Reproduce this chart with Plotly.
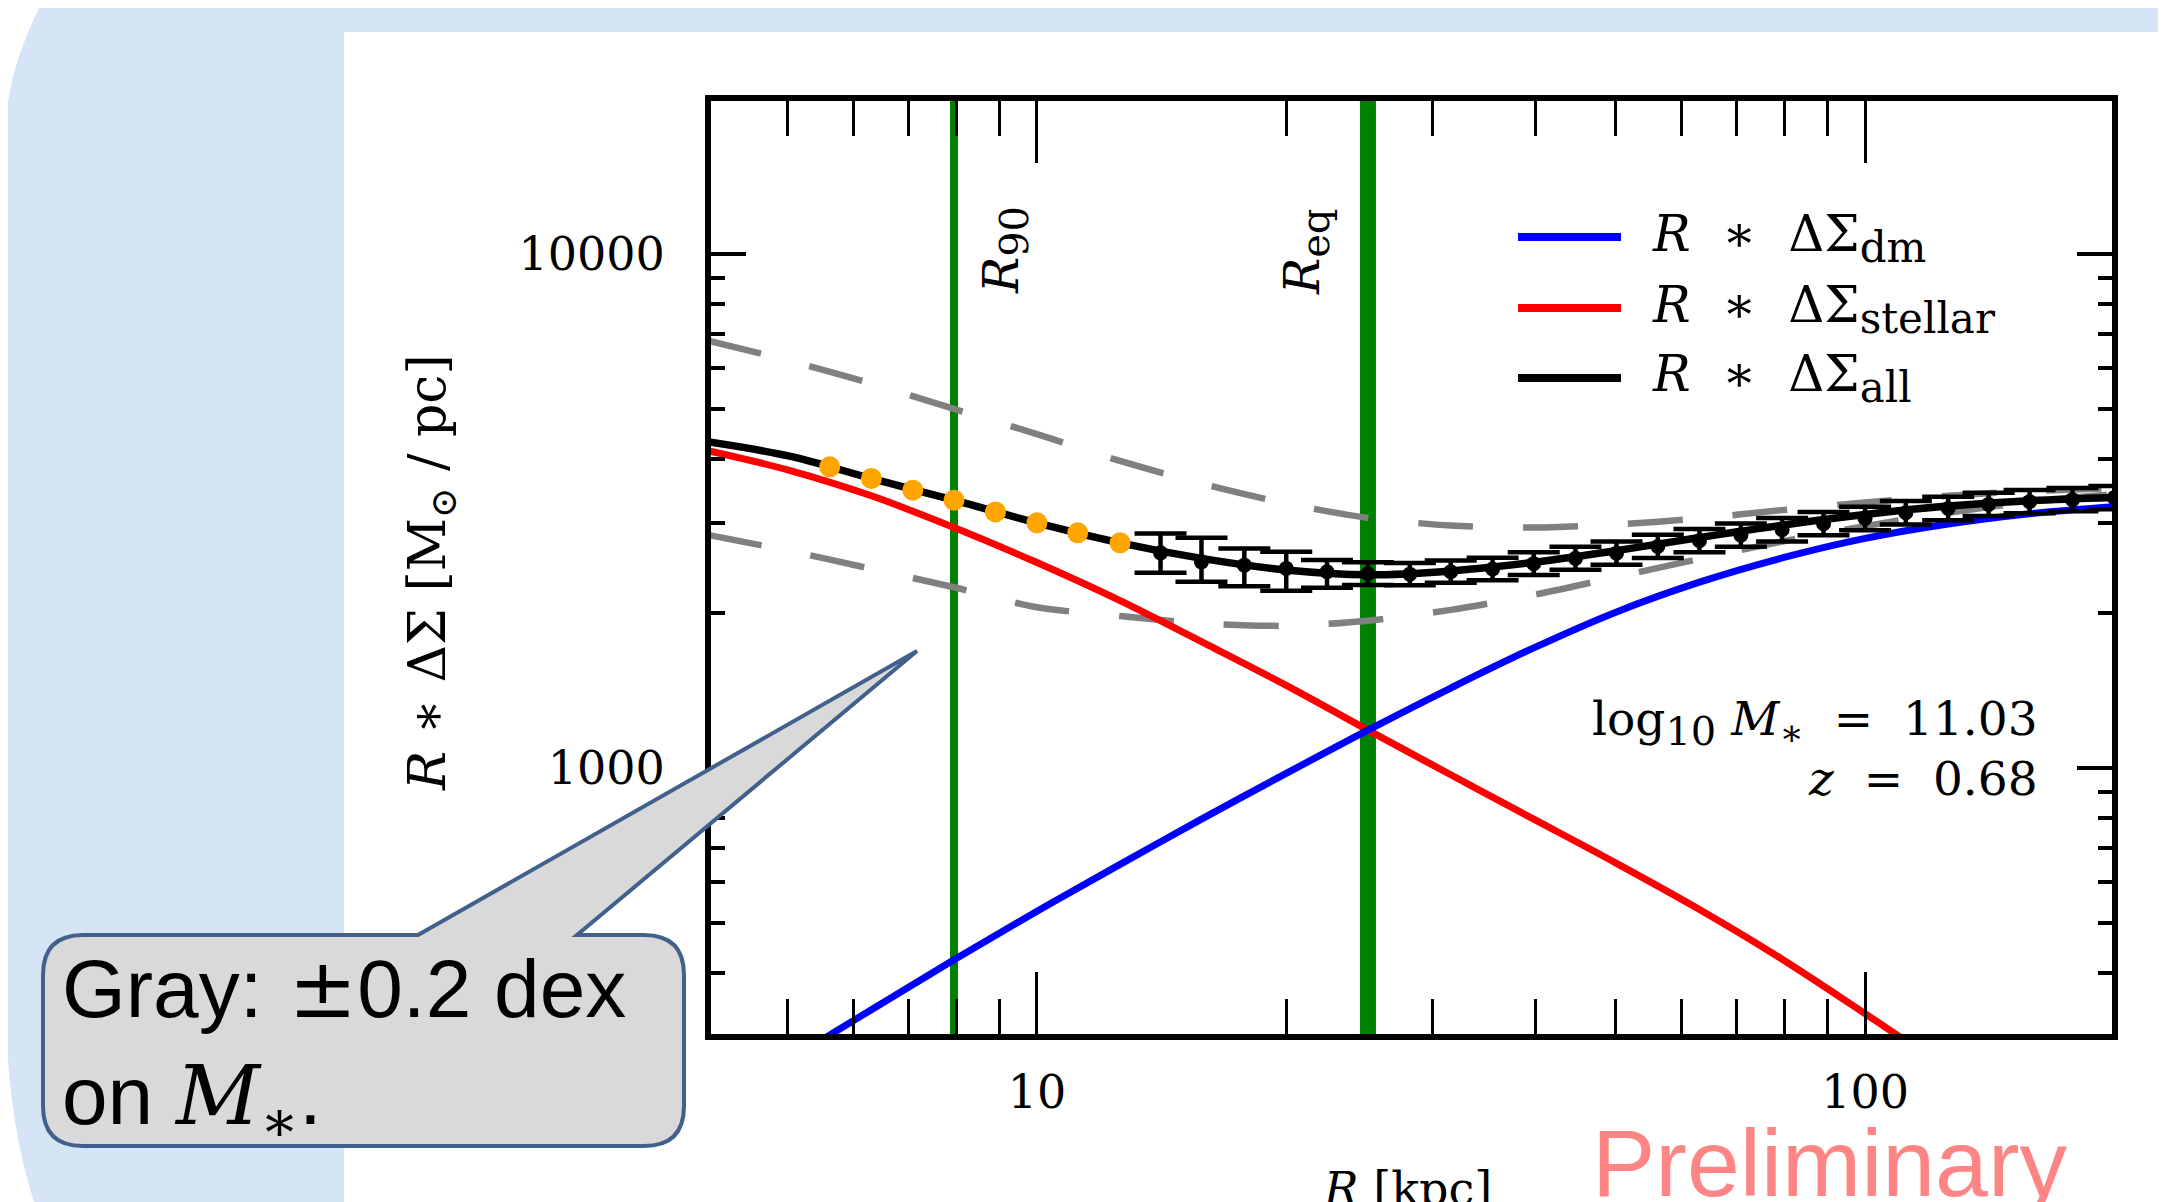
import math
import plotly.graph_objects as go

# ---------------- data ----------------
X_RANGE = [4.04, 198.7]
Y_RANGE = [304.0, 19860.0]

MODEL_R = [4.0, 5.01, 6.31, 7.94, 10.0, 12.6, 15.8, 20.0, 25.1, 31.6, 39.8, 50.1,
           63.1, 79.4, 100.0, 126.0, 158.0, 200.0]
STELLAR = [4150, 3802, 3388, 2938, 2512, 2118, 1762, 1449, 1186, 971, 796, 653,
           531, 425, 333, 259, 200, 151]
DM = [216, 270, 339, 424, 527, 650, 796, 977, 1186, 1432, 1714, 2014,
      2301, 2564, 2799, 2985, 3126, 3228]
ALL = [4315, 4050, 3661, 3322, 3001, 2744, 2560, 2430, 2378, 2420, 2515, 2650,
       2810, 2970, 3115, 3235, 3315, 3365]
UPPER = [6790, 6210, 5600, 5000, 4467, 3960, 3580, 3273, 3069, 2965, 2938, 2979,
         3062, 3177, 3289, 3388, 3459, 3508]
LOWER = [2844, 2649, 2443, 2249, 2056, 1977, 1914, 1892, 1936, 2032, 2173, 2355,
         2553, 2761, 2958, 3141, 3296, 3412]

ORANGE_R = [5.62, 6.31, 7.08, 7.94, 8.91, 10.0, 11.2, 12.6]
ORANGE_Y = [3857, 3661, 3474, 3322, 3152, 3001, 2870, 2744]

DATA_R = [14.1, 15.8, 17.8, 20.0, 22.4, 25.1, 28.2, 31.6, 35.5, 39.8, 44.7, 50.1,
          56.2, 63.1, 70.8, 79.4, 89.1, 100.0, 112.0, 126.0, 141.0, 158.0, 178.0, 200.0]
DATA_Y = [2624, 2520, 2483, 2447, 2410, 2390, 2385, 2410, 2440, 2500, 2560, 2620,
          2700, 2770, 2840, 2910, 2990, 3060, 3140, 3200, 3260, 3300, 3330, 3360]
ERR_PLUS = [238, 286, 193, 189, 130, 125, 122, 124, 128, 132, 136, 140,
            145, 150, 154, 158, 162, 166, 170, 174, 176, 178, 180, 180]
ERR_MINUS = [225, 216, 224, 234, 165, 118, 115, 116, 120, 124, 128, 132,
             136, 140, 144, 148, 152, 156, 160, 163, 166, 168, 170, 170]

R90 = 7.94
REQ = 25.1

X_MAJOR = [10, 100]
X_MAJOR_TEXT = ["10", "100"]
X_MINOR = [5, 6, 7, 8, 9, 20, 30, 40, 50, 60, 70, 80, 90]
Y_MAJOR = [1000, 10000]
Y_MAJOR_TEXT = ["1000", "10000"]
Y_MINOR = [400, 500, 600, 700, 800, 900, 2000, 3000, 4000, 5000, 6000, 7000, 8000, 9000]

LOG_MSTAR = "11.03"
Z_VAL = "0.68"

# ---------------- layout geometry (screen pixels) ----------------
W, H = 2166, 1202
BODY = 8                      # browser body margin offset
PL, PR, PT, PB = 711, 2112, 101, 1034   # plot area on screen
PW = PR - PL
PH = PB - PT


def px(x):
    return (x - PL) / PW


def py(y):
    return (PB - y) / PH


SERIF = "DejaVu Serif"
SANS = "Liberation Sans"


def sub(t, size):
    return f"<sub><span style=\"font-size:{size}px\">{t}</span></sub>"


fig = go.Figure()

for rv, wv in [(R90, 8), (REQ, 16)]:
    fig.add_trace(go.Scatter(x=[rv, rv], y=Y_RANGE, mode="lines",
                             line=dict(color="#008000", width=wv),
                             showlegend=False, hoverinfo="skip"))

for arr in (UPPER, LOWER):
    fig.add_trace(go.Scatter(x=MODEL_R, y=arr, mode="lines",
                             line=dict(color="#808080", width=6.5, dash="55px,50px",
                                       shape="spline", smoothing=0.8),
                             showlegend=False, hoverinfo="skip"))

fig.add_trace(go.Scatter(x=MODEL_R, y=STELLAR, mode="lines", name="stellar",
                         line=dict(color="#ff0000", width=7, shape="spline", smoothing=1.0),
                         showlegend=False))
fig.add_trace(go.Scatter(x=MODEL_R, y=DM, mode="lines", name="dm",
                         line=dict(color="#0000ff", width=7, shape="spline", smoothing=1.0),
                         showlegend=False))
fig.add_trace(go.Scatter(x=MODEL_R, y=ALL, mode="lines", name="all",
                         line=dict(color="#000000", width=7.5, shape="spline", smoothing=1.0),
                         showlegend=False))

fig.add_trace(go.Scatter(x=DATA_R, y=DATA_Y, mode="markers",
                         marker=dict(color="black", size=15),
                         error_y=dict(type="data", symmetric=False, array=ERR_PLUS,
                                      arrayminus=ERR_MINUS, color="black",
                                      thickness=4.5, width=26),
                         showlegend=False))
fig.add_trace(go.Scatter(x=ORANGE_R, y=ORANGE_Y, mode="markers",
                         marker=dict(color="#ffa500", size=21),
                         showlegend=False))

axis_common = dict(
    type="log", showgrid=False, zeroline=False, showline=True, linewidth=6,
    linecolor="black", mirror="allticks", ticks="inside", tickcolor="black",
    tickfont=dict(family=SERIF, size=46, color="black"),
)

fig.update_xaxes(**axis_common,
                 range=[math.log10(X_RANGE[0]), math.log10(X_RANGE[1])],
                 tickmode="array", tickvals=X_MAJOR, ticktext=X_MAJOR_TEXT,
                 ticklen=62, tickwidth=3, ticklabelstandoff=13,
                 minor=dict(ticks="inside", ticklen=35, tickwidth=3, tickcolor="black",
                            tickmode="array", tickvals=X_MINOR, showgrid=False))
fig.update_yaxes(**axis_common,
                 range=[math.log10(Y_RANGE[0]), math.log10(Y_RANGE[1])],
                 tickmode="array", tickvals=Y_MAJOR, ticktext=Y_MAJOR_TEXT,
                 ticklen=35, tickwidth=4, ticklabelstandoff=31,
                 minor=dict(ticks="inside", ticklen=14, tickwidth=4, tickcolor="black",
                            tickmode="array", tickvals=Y_MINOR, showgrid=False))

shapes = []
bp = [(60, -30), (6, 60), (6, 130), (6, 1000), (6, 1140), (48, 1240)]
path = (f"M {px(bp[0][0])},{py(bp[0][1])} Q {px(bp[1][0])},{py(bp[1][1])} {px(bp[2][0])},{py(bp[2][1])} "
        f"L {px(bp[3][0])},{py(bp[3][1])} Q {px(bp[4][0])},{py(bp[4][1])} {px(bp[5][0])},{py(bp[5][1])} "
        f"L {px(2220)},{py(1260)} L {px(2220)},{py(-30)} Z")
shapes.append(dict(type="path", xref="paper", yref="paper", path=path,
                   fillcolor="#d6e5f5", line=dict(width=0), layer="below"))
shapes.append(dict(type="rect", xref="paper", yref="paper",
                   x0=px(344), x1=px(2220), y0=py(32), y1=py(1260),
                   fillcolor="white", line=dict(width=0), layer="below"))

bx0, bx1, by0, by1, rr = 43, 684, 935, 1146, 40
t1, t2, tip = 418, 577, (917, 651)
pts = (f"M {px(bx0 + rr)},{py(by0)} L {px(t1)},{py(by0)} L {px(tip[0])},{py(tip[1])} "
       f"L {px(t2)},{py(by0)} L {px(bx1 - rr)},{py(by0)} "
       f"Q {px(bx1)},{py(by0)} {px(bx1)},{py(by0 + rr)} L {px(bx1)},{py(by1 - rr)} "
       f"Q {px(bx1)},{py(by1)} {px(bx1 - rr)},{py(by1)} L {px(bx0 + rr)},{py(by1)} "
       f"Q {px(bx0)},{py(by1)} {px(bx0)},{py(by1 - rr)} L {px(bx0)},{py(by0 + rr)} "
       f"Q {px(bx0)},{py(by0)} {px(bx0 + rr)},{py(by0)} Z")
shapes.append(dict(type="path", xref="paper", yref="paper", path=pts,
                   fillcolor="#d9d9d9", line=dict(color="#41618c", width=4), layer="above"))

LEG = [("#0000ff", 237, "dm"), ("#ff0000", 308, "stellar"), ("#000000", 378, "all")]
for col, yy, _ in LEG:
    shapes.append(dict(type="line", xref="paper", yref="paper",
                       x0=px(1518), x1=px(1621), y0=py(yy), y1=py(yy),
                       line=dict(color=col, width=8), layer="above"))

fig.update_layout(shapes=shapes)

ann = []
sym = "<i>R</i>&nbsp;&nbsp;∗&nbsp;&nbsp;ΔΣ"
for col, yy, s in LEG:
    ann.append(dict(x=px(1650), y=py(yy + 1), xref="paper", yref="paper",
                    xanchor="left", yanchor="middle", showarrow=False,
                    text=f"{sym}{sub(s, 42)}",
                    font=dict(family=SERIF, size=50, color="black")))

ann.append(dict(x=px(2040), y=py(722), xref="paper", yref="paper", xanchor="right",
                yanchor="middle", showarrow=False,
                text=f"log{sub('10', 40)}&nbsp;<i>M</i>{sub('∗', 36)}&nbsp;&nbsp;=&nbsp;&nbsp;{LOG_MSTAR}",
                font=dict(family=SERIF, size=47, color="black")))
ann.append(dict(x=px(2040), y=py(778), xref="paper", yref="paper", xanchor="right",
                yanchor="middle", showarrow=False,
                text=f"<i>z</i>&nbsp;&nbsp;=&nbsp;&nbsp;{Z_VAL}",
                font=dict(family=SERIF, size=47, color="black")))

ann.append(dict(x=px(1005), y=py(250), xref="paper", yref="paper", textangle=-90,
                xanchor="center", yanchor="middle",
                showarrow=False, text=f"<i>R</i>{sub('90', 40)}",
                font=dict(family=SERIF, size=48, color="black")))
ann.append(dict(x=px(1306), y=py(252), xref="paper", yref="paper", textangle=-90,
                xanchor="center", yanchor="middle",
                showarrow=False, text=f"<i>R</i>{sub('eq', 40)}",
                font=dict(family=SERIF, size=48, color="black")))

ann.append(dict(x=px(431), y=py(573), xref="paper", yref="paper", textangle=-90,
                xanchor="center", yanchor="middle", showarrow=False,
                text="<i>R</i>&nbsp;∗&nbsp;ΔΣ&nbsp;[M<sub>⊙</sub>&nbsp;/&nbsp;pc]",
                font=dict(family=SERIF, size=52, color="black")))
ann.append(dict(x=px(1407), y=py(1160), xref="paper", yref="paper",
                xanchor="center", yanchor="top", showarrow=False,
                text="<i>R</i> [kpc]",
                font=dict(family=SERIF, size=46, color="black")))

ann.append(dict(x=px(1590), y=py(1108), xref="paper", yref="paper",
                xanchor="left", yanchor="top", showarrow=False,
                text="Preliminary",
                font=dict(family=SANS, size=95, color="#ff8585")))

ann.append(dict(x=px(60), y=py(1048), xref="paper", yref="paper",
                xanchor="left", yanchor="middle", align="left", showarrow=False,
                text=("Gray:<span style=\"font-family:DejaVu Serif\">&nbsp;±</span>0.2 dex<br>"
                      "on <span style=\"font-family:DejaVu Serif\"><i>M</i><sub>∗</sub></span>."),
                font=dict(family=SANS, size=82, color="black")))

fig.update_layout(
    annotations=ann,
    width=W, height=H,
    margin=dict(l=PL - BODY, r=W - PR + BODY, t=PT - BODY, b=H - PB + BODY, pad=0),
    paper_bgcolor="white",
    plot_bgcolor="rgba(0,0,0,0)",
    showlegend=False,
)

fig.write_html("out.html")
